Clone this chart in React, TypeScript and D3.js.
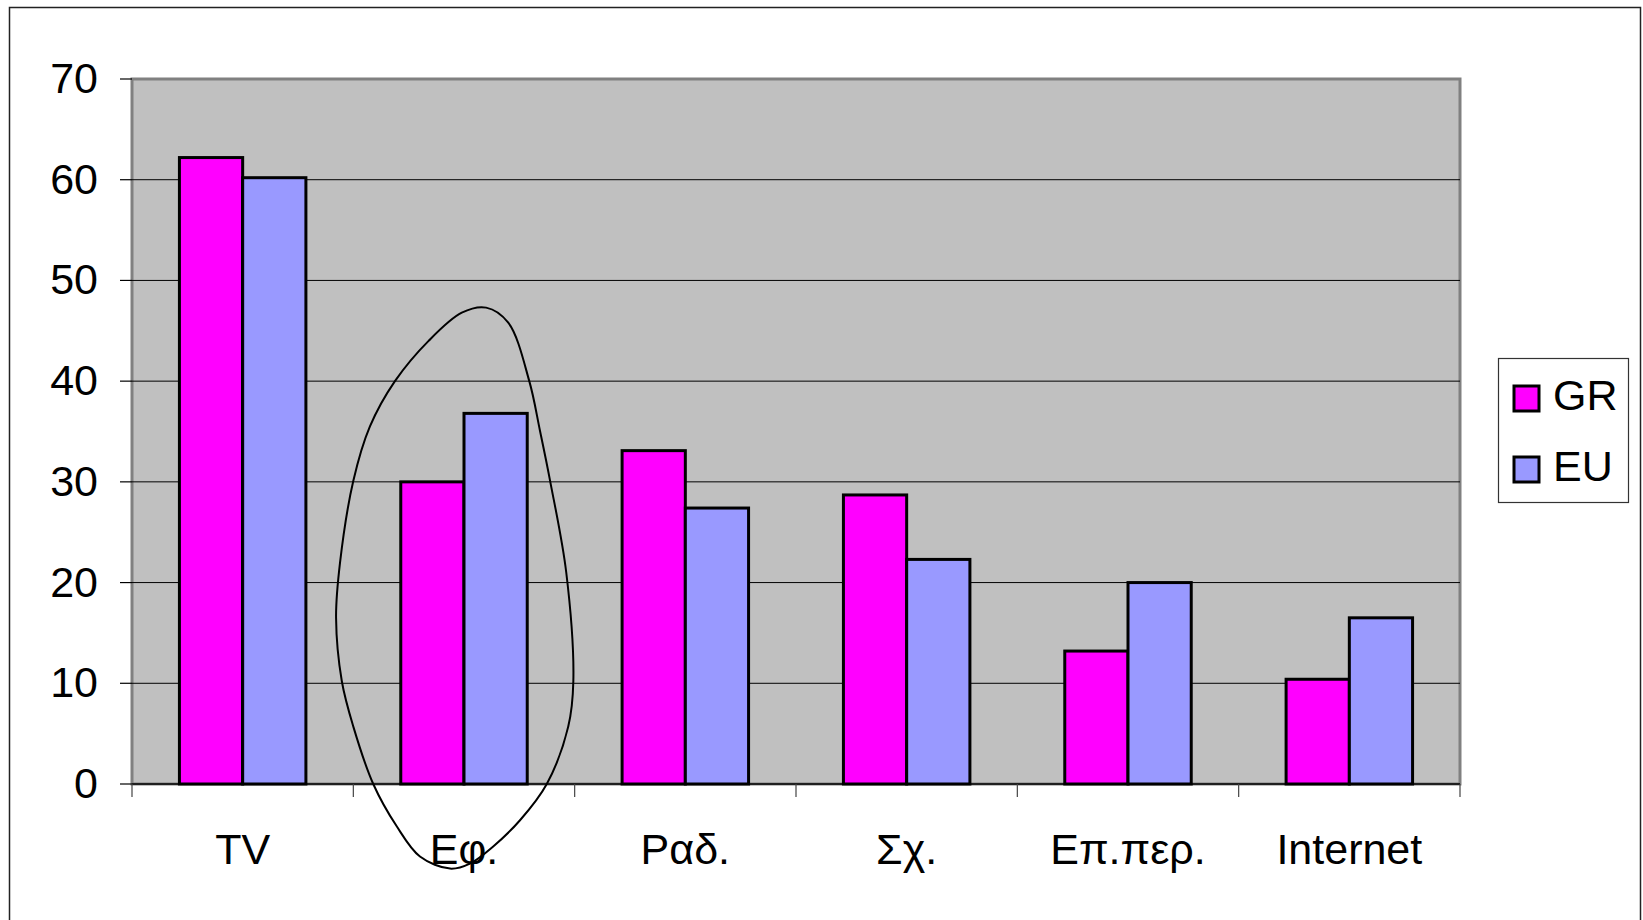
import React, { useEffect, useRef } from 'react';
import * as d3 from 'd3';

/* ── Data ─────────────────────────────────────────────────────────── */
const categories = ['TV', 'Εφ.', 'Ραδ.', 'Σχ.', 'Επ.περ.', 'Internet'];
const seriesNames = ['GR', 'EU'];
const grValues = [62.2, 30.0, 33.1, 28.7, 13.2, 10.4];
const euValues = [60.2, 36.8, 27.4, 22.3, 20.0, 16.5];
const yTicks = [0, 10, 20, 30, 40, 50, 60, 70];

// hand-drawn loop around "Εφ." — [category position, value]
const loopPoints: [number, number][] = [
  [1.600, 47.3], [1.700, 45.8], [1.795, 40.0], [1.843, 35.1],
  [1.889, 30.1], [1.962, 21.0], [1.994, 10.2], [1.971, 5.7], [1.874, 0.0],
  [1.753, -3.6], [1.632, -6.2], [1.527, -7.9], [1.437, -8.4], [1.301, -7.2],
  [1.196, -4.2], [1.090, 0.0], [1.000, 5.7], [0.948, 10.2], [0.922, 16.5],
  [0.940, 22.0], [1.000, 30.1], [1.075, 35.5], [1.188, 40.0], [1.340, 44.0],
  [1.490, 46.8],
];

const COLORS = { GR: '#FF00FF', EU: '#9999FF', plot: '#C0C0C0', border: '#808080' };
const FONT = '"Liberation Sans", Arial, sans-serif';

const W = 1643;
const H = 920;

export default function App() {
  const svgRef = useRef<SVGSVGElement>(null);

  useEffect(() => {
    if (!svgRef.current) return;
    const svg = d3.select(svgRef.current);
    svg.selectAll('*').remove();

    const plot = { left: 132, top: 79, right: 1460, bottom: 784 };

    // outer chart frame
    svg.append('rect')
      .attr('x', 9.5).attr('y', 7.5)
      .attr('width', 1631).attr('height', 940)
      .attr('fill', '#fff').attr('stroke', '#222').attr('stroke-width', 1.5);

    const x = d3.scaleLinear().domain([0, categories.length]).range([plot.left, plot.right]);
    const y = d3.scaleLinear().domain([0, 70]).range([plot.bottom, plot.top]);

    const band = d3.scaleBand<number>()
      .domain(d3.range(categories.length))
      .range([plot.left, plot.right])
      .paddingInner(0).paddingOuter(0);
    const catW = band.bandwidth();
    const barW = catW / 3.5; // Excel gap width 150%

    // plot area
    svg.append('rect')
      .attr('x', plot.left).attr('y', plot.top)
      .attr('width', plot.right - plot.left).attr('height', plot.bottom - plot.top)
      .attr('fill', COLORS.plot)
      .attr('stroke', COLORS.border).attr('stroke-width', 3);

    // gridlines
    svg.append('g')
      .selectAll('line')
      .data(yTicks.filter(t => t > 0 && t < 70))
      .enter().append('line')
      .attr('x1', plot.left).attr('x2', plot.right)
      .attr('y1', d => y(d)).attr('y2', d => y(d))
      .attr('stroke', '#000').attr('stroke-width', 1);

    // y ticks + labels
    const yAx = svg.append('g');
    yAx.selectAll('line')
      .data(yTicks).enter().append('line')
      .attr('x1', plot.left - 12).attr('x2', plot.left)
      .attr('y1', d => y(d)).attr('y2', d => y(d))
      .attr('stroke', '#000').attr('stroke-width', 1.2);
    yAx.selectAll('text')
      .data(yTicks).enter().append('text')
      .attr('x', 98).attr('y', d => y(d) + 14)
      .attr('text-anchor', 'end')
      .attr('font-family', FONT).attr('font-size', 43)
      .attr('fill', '#000')
      .text(d => d);

    // bars
    const series = [grValues, euValues];
    series.forEach((vals, si) => {
      svg.append('g')
        .selectAll('rect')
        .data(vals).enter().append('rect')
        .attr('x', (_, i) => band(i)! + barW * 0.75 + si * barW)
        .attr('y', d => y(d))
        .attr('width', barW)
        .attr('height', d => y(0) - y(d))
        .attr('fill', si === 0 ? COLORS.GR : COLORS.EU)
        .attr('stroke', '#000').attr('stroke-width', 3);
    });

    // x axis
    svg.append('line')
      .attr('x1', plot.left).attr('x2', plot.right)
      .attr('y1', y(0)).attr('y2', y(0))
      .attr('stroke', '#000').attr('stroke-width', 1.5);
    svg.append('g')
      .selectAll('line')
      .data(d3.range(categories.length + 1)).enter().append('line')
      .attr('x1', d => x(d)).attr('x2', d => x(d))
      .attr('y1', y(0)).attr('y2', y(0) + 13)
      .attr('stroke', '#444').attr('stroke-width', 1.2);
    svg.append('g')
      .selectAll('text')
      .data(categories).enter().append('text')
      .attr('x', (_, i) => band(i)! + catW / 2)
      .attr('y', 864)
      .attr('text-anchor', 'middle')
      .attr('font-family', FONT).attr('font-size', 43)
      .attr('fill', '#000')
      .text(d => d);

    // legend
    const lg = svg.append('g');
    lg.append('rect')
      .attr('x', 1498.5).attr('y', 358.5).attr('width', 130).attr('height', 144)
      .attr('fill', '#fff').attr('stroke', '#333').attr('stroke-width', 1.2);
    seriesNames.forEach((name, i) => {
      const cy = 398 + i * 71;
      lg.append('rect')
        .attr('x', 1514).attr('y', cy - 12).attr('width', 25).attr('height', 25)
        .attr('fill', i === 0 ? COLORS.GR : COLORS.EU)
        .attr('stroke', '#000').attr('stroke-width', 3);
      lg.append('text')
        .attr('x', 1553).attr('y', cy + 12)
        .attr('font-family', FONT).attr('font-size', 43)
        .attr('fill', '#000')
        .text(name);
    });

    // annotation loop
    const loop = d3.line<[number, number]>()
      .x(d => x(d[0]))
      .y(d => y(d[1]))
      .curve(d3.curveCatmullRomClosed.alpha(0.5));
    svg.append('path')
      .attr('d', loop(loopPoints))
      .attr('fill', 'none')
      .attr('stroke', '#000').attr('stroke-width', 2);
  }, []);

  return (
    <div style={{ position: 'absolute', left: 0, top: 0, width: W, height: H, overflow: 'hidden', background: '#fff' }}>
      <svg ref={svgRef} width={W} height={H} />
    </div>
  );
}
